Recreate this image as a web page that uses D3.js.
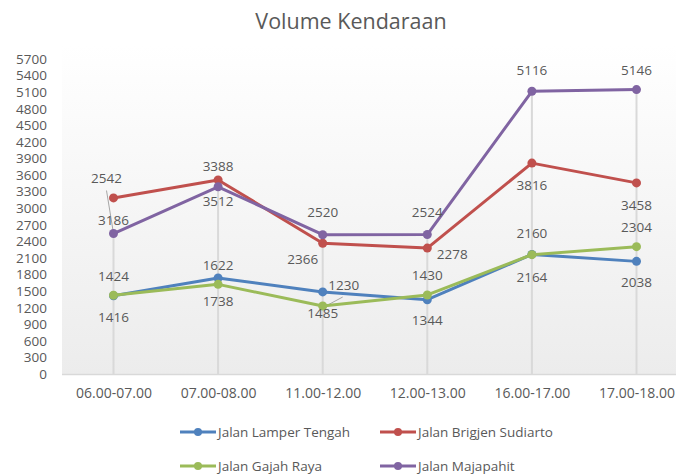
<!DOCTYPE html>
<html><head><meta charset="utf-8">
<script src="https://cdn.jsdelivr.net/npm/d3@7"></script>
<style>
html,body{margin:0;padding:0;background:#fff;}
svg{display:block;font-family:"Open Sans",sans-serif;}
</style></head>
<body><svg id="chart" width="676" height="476"></svg>
<script>
const categories = ["06.00-07.00","07.00-08.00","11.00-12.00","12.00-13.00","16.00-17.00","17.00-18.00"];
const seriesNames = ["Jalan Lamper Tengah","Jalan Brigjen Sudiarto","Jalan Gajah Raya","Jalan Majapahit"];
const lamperTengah = [1416,1738,1485,1344,2164,2038];
const brigjenSudiarto = [3186,3512,2366,2278,3816,3458];
const gajahRaya = [1424,1622,1230,1430,2160,2304];
const majapahit = [2542,3388,2520,2524,5116,5146];
const yTicks = [0,300,600,900,1200,1500,1800,2100,2400,2700,3000,3300,3600,3900,4200,4500,4800,5100,5400,5700];
const colors = ["#4f81bd","#c0504d","#9bbb59","#8064a2"];

// label placement (offsets in px from point), kept separate from data
const labelOffsets = [
  [[0,22],[0,23],[0,21],[0,21],[0,23],[0,21]],
  [[0,22],[0,21],[-20,16],[25,6],[0,22],[0,22]],
  [[0,-19],[0,-19],[21,-21],[0,-20],[0,-21],[0,-19]],
  [[-7,-55],[0,-20],[0,-22],[0,-22],[0,-21],[0,-19]]
];
const leaders = {"3-0":true,"2-2":true};

(function(){
const svg = d3.select("#chart");
const pLeft = 62, pRight = 690, pBottom = 374.5;
const values = [lamperTengah, brigjenSudiarto, gajahRaya, majapahit];

const defs = svg.append("defs");
const grad = defs.append("linearGradient").attr("id","bg").attr("x1",0).attr("y1",0).attr("x2",0).attr("y2",1);
grad.append("stop").attr("offset","0%").attr("stop-color","#ffffff");
grad.append("stop").attr("offset","100%").attr("stop-color","#ececec");

svg.append("rect").attr("x",pLeft).attr("y",45).attr("width",pRight-pLeft).attr("height",pBottom-45).attr("fill","url(#bg)");

const x = d3.scalePoint().domain(categories).range([113.5, 636.5]);
const y = d3.scaleLinear().domain([0,5700]).range([374, 59]);

// title
svg.append("text").attr("x",351).attr("y",29).attr("text-anchor","middle")
  .attr("font-size",21.5).attr("fill","#595959").text("Volume Kendaraan");

// y axis
const yAxis = d3.axisLeft(y).tickValues(yTicks).tickSize(0).tickPadding(0).tickFormat(d3.format("d"));
const gy = svg.append("g").attr("transform","translate(47,0)").call(yAxis);
gy.select(".domain").remove();
gy.selectAll("text").attr("font-size",13.5).attr("fill","#595959").attr("font-family","'Open Sans',sans-serif");

// x axis
const xAxis = d3.axisBottom(x).tickSize(0).tickPadding(14);
const gx = svg.append("g").attr("transform",`translate(0,${pBottom})`).call(xAxis);
gx.select(".domain").remove();
gx.selectAll("text").attr("font-size",14).attr("fill","#595959").attr("font-family","'Open Sans',sans-serif");
svg.append("line").attr("x1",pLeft).attr("x2",pRight).attr("y1",pBottom).attr("y2",pBottom).attr("stroke","#d9d9d9").attr("stroke-width",1.5);

// drop lines from Majapahit series
svg.append("g").selectAll("line").data(categories).join("line")
  .attr("x1",d=>x(d)).attr("x2",d=>x(d))
  .attr("y1",(d,i)=>y(majapahit[i])).attr("y2",pBottom)
  .attr("stroke","#d9d9d9").attr("stroke-width",2);

const line = d3.line().x((d,i)=>x(categories[i])).y(d=>y(d));

// leader lines
const lg = svg.append("g");
values.forEach((vals,s)=>{
  vals.forEach((v,i)=>{
    if(leaders[s+"-"+i]){
      const px = x(categories[i]), py = y(v);
      const [dx,dy] = labelOffsets[s][i];
      if (s===3) lg.append("line").attr("x1",px+dx).attr("y1",py+dy+12).attr("x2",px).attr("y2",py).attr("stroke","#a6a6a6").attr("stroke-width",1);
      else lg.append("line").attr("x1",px+dx-1).attr("y1",py+dy+12).attr("x2",px+5).attr("y2",py-1).attr("stroke","#a6a6a6").attr("stroke-width",1);
    }
  });
});

values.forEach((vals,s)=>{
  const g = svg.append("g");
  g.append("path").datum(vals).attr("d",line).attr("fill","none")
    .attr("stroke",colors[s]).attr("stroke-width",3).attr("stroke-linejoin","round");
  g.selectAll("circle").data(vals).join("circle")
    .attr("cx",(d,i)=>x(categories[i])).attr("cy",d=>y(d)).attr("r",4.5).attr("fill",colors[s]);
});

// data labels
values.forEach((vals,s)=>{
  svg.append("g").selectAll("text").data(vals).join("text")
    .attr("x",(d,i)=>x(categories[i])+labelOffsets[s][i][0])
    .attr("y",(d,i)=>y(d)+labelOffsets[s][i][1])
    .attr("dy","0.35em").attr("text-anchor","middle")
    .attr("font-size",13.5).attr("fill","#595959").text(d=>d);
});

// legend
const legendPos = [[180,432],[380,432],[180,466],[380,466]];
seriesNames.forEach((n,s)=>{
  const [lx,ly] = legendPos[s];
  const g = svg.append("g").attr("transform",`translate(${lx},${ly})`);
  g.append("line").attr("x1",0).attr("x2",36).attr("y1",0).attr("y2",0).attr("stroke",colors[s]).attr("stroke-width",3);
  g.append("circle").attr("cx",18).attr("cy",0).attr("r",4).attr("fill",colors[s]);
  g.append("text").attr("x",38).attr("y",0).attr("dy","0.35em").attr("font-size",13.5).attr("fill","#595959").text(n);
});
})();
</script></body></html>
